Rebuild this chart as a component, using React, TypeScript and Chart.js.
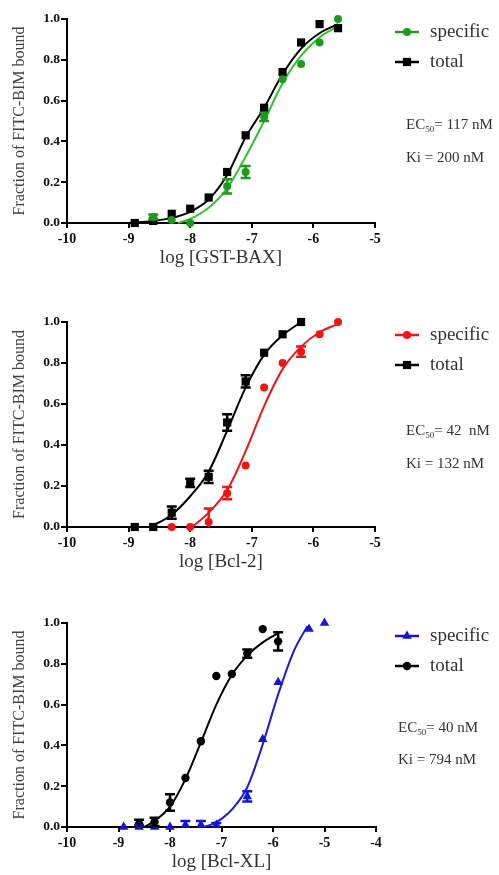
import React, { useEffect, useRef } from 'react';
import { Chart, registerables } from 'chart.js';

Chart.register(...registerables);

const SERIF = '"Liberation Serif", "DejaVu Serif", serif';

// ---------- Panel 1: GST-BAX ----------
const baxTotalX = [-8.9, -8.6, -8.3, -8.0, -7.7, -7.4, -7.1, -6.8, -6.5, -6.2, -5.9, -5.6];
const baxTotal = [0.0, 0.01, 0.045, 0.07, 0.125, 0.25, 0.43, 0.565, 0.74, 0.885, 0.975, 0.955];
const baxTotalErr = [0, 0, 0, 0, 0, 0, 0, 0, 0, 0, 0, 0];
const baxSpecX = [-8.6, -8.3, -8.0, -7.4, -7.1, -6.8, -6.5, -6.2, -5.9, -5.6];
const baxSpec = [0.03, 0.015, 0.0, 0.18, 0.25, 0.52, 0.705, 0.78, 0.885, 1.0];
const baxSpecErr = [0.012, 0, 0, 0.035, 0.03, 0.02, 0, 0, 0, 0];
const baxTotalFitX = [-9.0, -8.6, -8.3, -8.0, -7.7, -7.4, -7.1, -6.8, -6.5, -6.2, -5.9, -5.6];
const baxTotalFit = [0.0, 0.01, 0.025, 0.055, 0.115, 0.235, 0.42, 0.565, 0.73, 0.855, 0.93, 0.975];
const baxSpecFitX = [-8.2, -8.0, -7.7, -7.4, -7.1, -6.8, -6.5, -6.2, -5.9, -5.6];
const baxSpecFit = [0.0, 0.02, 0.075, 0.17, 0.325, 0.5, 0.685, 0.82, 0.91, 0.965];

// ---------- Panel 2: Bcl-2 ----------
const bcl2TotalX = [-8.9, -8.6, -8.3, -8.0, -7.7, -7.4, -7.1, -6.8, -6.5, -6.2];
const bcl2Total = [0.0, 0.0, 0.07, 0.215, 0.245, 0.51, 0.71, 0.85, 0.94, 1.0];
const bcl2TotalErr = [0, 0, 0.03, 0.02, 0.03, 0.04, 0.03, 0, 0, 0];
const bcl2SpecX = [-8.3, -8.0, -7.7, -7.4, -7.1, -6.8, -6.5, -6.2, -5.9, -5.6];
const bcl2Spec = [0.0, 0.0, 0.025, 0.165, 0.3, 0.68, 0.8, 0.855, 0.94, 1.0];
const bcl2SpecErr = [0, 0, 0.065, 0.03, 0, 0, 0, 0.025, 0, 0];
const bcl2TotalFitX = [-8.65, -8.3, -8.0, -7.7, -7.4, -7.1, -6.8, -6.5, -6.2];
const bcl2TotalFit = [0.0, 0.06, 0.15, 0.27, 0.47, 0.68, 0.84, 0.935, 1.0];
const bcl2SpecFitX = [-7.97, -7.7, -7.4, -7.1, -6.8, -6.5, -6.2, -5.9, -5.6];
const bcl2SpecFit = [0.0, 0.07, 0.18, 0.37, 0.59, 0.77, 0.88, 0.95, 0.99];

// ---------- Panel 3: Bcl-XL ----------
const xlTotalX = [-8.6, -8.3, -8.0, -7.7, -7.4, -7.1, -6.8, -6.5, -6.2, -5.9];
const xlTotal = [0.015, 0.025, 0.12, 0.24, 0.42, 0.74, 0.75, 0.85, 0.97, 0.91];
const xlTotalErr = [0.02, 0.02, 0.04, 0, 0, 0, 0, 0.02, 0, 0.045];
const xlSpecX = [-8.9, -8.6, -8.3, -8.0, -7.7, -7.4, -7.1, -6.5, -6.2, -5.9, -5.3, -5.0];
const xlSpec = [0.0, 0.0, 0.0, 0.0, 0.01, 0.01, 0.01, 0.15, 0.43, 0.71, 0.97, 1.0];
const xlSpecErr = [0, 0.01, 0, 0, 0.02, 0.02, 0.01, 0.025, 0, 0, 0, 0];
const xlTotalFitX = [-8.5, -8.3, -8.0, -7.7, -7.4, -7.1, -6.8, -6.5, -6.2, -5.9];
const xlTotalFit = [0.0, 0.03, 0.1, 0.235, 0.415, 0.6, 0.745, 0.84, 0.905, 0.95];
const xlSpecFitX = [-7.35, -7.2, -7.0, -6.8, -6.5, -6.2, -5.9, -5.6, -5.33];
const xlSpecFit = [0.0, 0.012, 0.04, 0.085, 0.195, 0.405, 0.65, 0.86, 0.985];

const yTicks = [0, 0.2, 0.4, 0.6, 0.8, 1.0];

type Panel = {
  top: number;
  padTop: number;
  height: number;
  padRight: number;
  xMax: number;
  xTitle: string;
  spec: { x: number[]; y: number[]; err: number[]; fx: number[]; fy: number[]; color: string; line: string; style: string; r: number };
  total: { x: number[]; y: number[]; err: number[]; fx: number[]; fy: number[]; style: string; r: number };
  ec50: string;
  ki: string;
  textX: number;
  ecDy: number;
  kiDy: number;
};

const panels: Panel[] = [
  {
    top: 0, padTop: 19, height: 271, padRight: 124, xMax: -5, xTitle: 'log [GST-BAX]',
    spec: { x: baxSpecX, y: baxSpec, err: baxSpecErr, fx: baxSpecFitX, fy: baxSpecFit, color: '#1e9a1e', line: '#2fc42f', style: 'circle', r: 4 },
    total: { x: baxTotalX, y: baxTotal, err: baxTotalErr, fx: baxTotalFitX, fy: baxTotalFit, style: 'rect', r: 5.8 },
    ec50: '117 nM', ki: '200 nM', textX: 406, ecDy: 106, kiDy: 139,
  },
  {
    top: 290, padTop: 32, height: 285, padRight: 124, xMax: -5, xTitle: 'log [Bcl-2]',
    spec: { x: bcl2SpecX, y: bcl2Spec, err: bcl2SpecErr, fx: bcl2SpecFitX, fy: bcl2SpecFit, color: '#f01414', line: '#f01414', style: 'circle', r: 4 },
    total: { x: bcl2TotalX, y: bcl2Total, err: bcl2TotalErr, fx: bcl2TotalFitX, fy: bcl2TotalFit, style: 'rect', r: 5.8 },
    ec50: '42  nM', ki: '132 nM', textX: 406, ecDy: 109, kiDy: 142,
  },
  {
    top: 590, padTop: 33, height: 285, padRight: 123, xMax: -4, xTitle: 'log [Bcl-XL]',
    spec: { x: xlSpecX, y: xlSpec, err: xlSpecErr, fx: xlSpecFitX, fy: xlSpecFit, color: '#1414d2', line: '#1a1ae0', style: 'triangle', r: 5.5 },
    total: { x: xlTotalX, y: xlTotal, err: xlTotalErr, fx: xlTotalFitX, fy: xlTotalFit, style: 'circle', r: 4.2 },
    ec50: '40 nM', ki: '794 nM', textX: 398, ecDy: 105, kiDy: 137,
  },
];

const zip = (xs: number[], ys: number[]) => xs.map((x, i) => ({ x, y: ys[i] }));

function drawMarker(ctx: CanvasRenderingContext2D, style: string, x: number, y: number, r: number, color: string) {
  ctx.fillStyle = color;
  ctx.beginPath();
  if (style === 'rect') {
    const s = r * Math.SQRT1_2;
    ctx.rect(x - s, y - s, 2 * s, 2 * s);
  } else if (style === 'triangle') {
    for (let k = 0; k < 3; k++) {
      const a = -Math.PI / 2 + (k * 2 * Math.PI) / 3;
      const px = x + Math.cos(a) * r;
      const py = y + Math.sin(a) * r;
      if (k === 0) ctx.moveTo(px, py);
      else ctx.lineTo(px, py);
    }
    ctx.closePath();
  } else {
    ctx.arc(x, y, r, 0, Math.PI * 2);
  }
  ctx.fill();
}

function makeConfig(p: Panel): any {
  const errorPlugin = {
    id: 'errorBars',
    afterDatasetsDraw(chart: any) {
      const ctx = chart.ctx as CanvasRenderingContext2D;
      const xs = chart.scales.x;
      const ys = chart.scales.y;
      chart.data.datasets.forEach((ds: any) => {
        if (!ds.errors) return;
        ctx.save();
        ctx.strokeStyle = ds.borderColor;
        ctx.lineWidth = 2.5;
        ds.data.forEach((pt: any, i: number) => {
          const e = ds.errors[i];
          if (!e) return;
          const px = xs.getPixelForValue(pt.x);
          const y1 = ys.getPixelForValue(Math.min(pt.y + e, 1.05));
          const y2 = ys.getPixelForValue(Math.max(pt.y - e, 0));
          ctx.beginPath();
          ctx.moveTo(px, y1);
          ctx.lineTo(px, y2);
          ctx.moveTo(px - 5, y1);
          ctx.lineTo(px + 5, y1);
          if (pt.y - e > 0) {
            ctx.moveTo(px - 5, y2);
            ctx.lineTo(px + 5, y2);
          }
          ctx.stroke();
        });
        ctx.restore();
      });
    },
  };

  const decorPlugin = {
    id: 'decor',
    afterDraw(chart: any) {
      const ctx = chart.ctx as CanvasRenderingContext2D;
      const top = chart.chartArea.top;
      ctx.save();
      const items = [
        { label: 'specific', color: p.spec.color, style: p.spec.style, r: p.spec.r, dy: 13 },
        { label: 'total', color: '#000', style: p.total.style, r: p.total.r, dy: 43 },
      ];
      items.forEach((it) => {
        const y = top + it.dy;
        ctx.strokeStyle = it.color;
        ctx.lineWidth = 2.5;
        ctx.beginPath();
        ctx.moveTo(395, y);
        ctx.lineTo(419, y);
        ctx.stroke();
        drawMarker(ctx, it.style, 407, y, it.r, it.color);
        ctx.fillStyle = '#333';
        ctx.font = `19px ${SERIF}`;
        ctx.textBaseline = 'middle';
        ctx.textAlign = 'left';
        ctx.fillText(it.label, 430, y);
      });
      const ecY = top + p.ecDy;
      const kiY = top + p.kiDy;
      ctx.fillStyle = '#333';
      ctx.font = `15px ${SERIF}`;
      ctx.fillText('EC', p.textX, ecY);
      const w1 = ctx.measureText('EC').width;
      ctx.font = `9px ${SERIF}`;
      ctx.fillText('50', p.textX + w1, ecY + 5);
      const w2 = ctx.measureText('50').width;
      ctx.font = `15px ${SERIF}`;
      ctx.fillText('= ' + p.ec50, p.textX + w1 + w2, ecY);
      ctx.fillText('Ki = ' + p.ki, p.textX, kiY);
      ctx.restore();
    },
  };

  const markerSet = (s: any, color: string, label: string) => ({
    label,
    data: zip(s.x, s.y),
    errors: s.err,
    showLine: false,
    pointStyle: s.style,
    pointRadius: s.r,
    pointHoverRadius: s.r,
    pointBackgroundColor: color,
    pointBorderColor: color,
    pointBorderWidth: 0,
    borderColor: color,
    backgroundColor: color,
    order: 0,
    clip: false,
  });
  const fitSet = (s: any, color: string, label: string) => ({
    label,
    data: zip(s.fx, s.fy),
    showLine: true,
    pointRadius: 0,
    borderColor: color,
    borderWidth: 2,
    cubicInterpolationMode: 'monotone',
    fill: false,
    order: 1,
    clip: false,
  });

  return {
    type: 'scatter',
    data: {
      datasets: [
        markerSet(p.spec, p.spec.color, 'specific'),
        markerSet(p.total, '#000', 'total'),
        fitSet(p.spec, p.spec.line, 'specific fit'),
        fitSet(p.total, '#000', 'total fit'),
      ],
    },
    options: {
      responsive: false,
      animation: false,
      devicePixelRatio: 1,
      layout: { padding: { top: p.padTop, right: p.padRight, left: 0, bottom: 0 } },
      plugins: { legend: { display: false }, tooltip: { enabled: false } },
      scales: {
        x: {
          type: 'linear',
          min: -10,
          max: p.xMax,
          afterBuildTicks: (s: any) => {
            const t = [];
            for (let v = -10; v <= p.xMax; v++) t.push({ value: v });
            s.ticks = t;
          },
          ticks: {
            font: { family: SERIF, size: 14, weight: 'bold' as const },
            color: '#111',
            padding: 3,
            maxRotation: 0,
            callback: (v: any) => String(v),
          },
          grid: { drawOnChartArea: false, drawTicks: true, tickLength: 5, color: '#000', lineWidth: 2 },
          border: { display: true, color: '#000', width: 2 },
          title: { display: true, text: p.xTitle, color: '#333', font: { family: SERIF, size: 19 }, padding: { top: 0, bottom: 2 } },
          afterFit: (s: any) => { s.height = 48; },
        },
        y: {
          type: 'linear',
          min: 0,
          max: 1,
          afterBuildTicks: (s: any) => { s.ticks = yTicks.map((v) => ({ value: v })); },
          ticks: {
            font: { family: SERIF, size: 13.5, weight: 'bold' as const },
            color: '#111',
            padding: 1,
            callback: (v: any) => Number(v).toFixed(1),
          },
          grid: { drawOnChartArea: false, drawTicks: true, tickLength: 6, color: '#000', lineWidth: 2 },
          border: { display: true, color: '#000', width: 2 },
          title: { display: true, text: 'Fraction of FITC-BIM bound', color: '#444', font: { family: SERIF, size: 16 }, padding: { top: 10, bottom: 0 } },
          afterFit: (s: any) => { s.width = 67; },
        },
      },
    },
    plugins: [errorPlugin, decorPlugin],
  };
}

function PanelChart({ p }: { p: Panel }) {
  const ref = useRef<HTMLCanvasElement | null>(null);
  useEffect(() => {
    if (!ref.current) return;
    const chart = new Chart(ref.current, makeConfig(p));
    return () => chart.destroy();
  }, [p]);
  return (
    <canvas
      ref={ref}
      width={499}
      height={p.height}
      style={{ position: 'absolute', left: 0, top: p.top, width: 499, height: p.height, display: 'block' }}
    />
  );
}

export default function App() {
  return (
    <div style={{ position: 'absolute', left: 0, top: 0, width: 499, height: 875, background: '#fff', overflow: 'hidden' }}>
      {panels.map((p, i) => (
        <PanelChart key={i} p={p} />
      ))}
    </div>
  );
}
